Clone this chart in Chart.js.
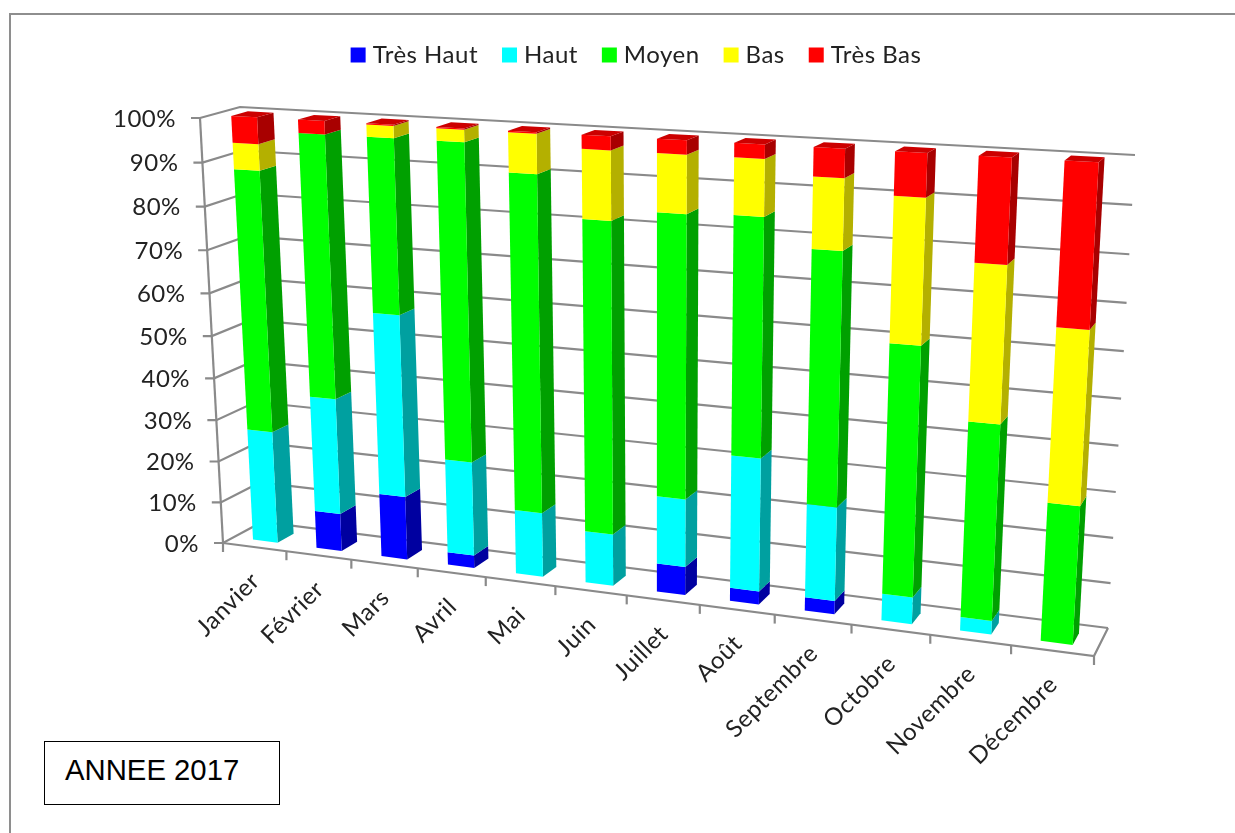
<!DOCTYPE html>
<html lang="fr">
<head>
  <meta charset="UTF-8">
  <title>Année 2017</title>
  <script src="https://cdn.jsdelivr.net/npm/chart.js"></script>
  <style>
    html, body { margin: 0; background: #fff; overflow: hidden; }
    #cadre { position: absolute; left: 9px; top: 13px; width: 1240px; height: 840px; border-left: 2px solid #8e8e8e; border-top: 2px solid #8e8e8e; }
    #graphique { position: absolute; left: 0; top: 0; }
    #annee { position: absolute; left: 44px; top: 741px; width: 233.5px; height: 62px; border: 1.5px solid #000; background: #fff;
             font: 29.3px "Liberation Sans", Arial, sans-serif; line-height: 55px; text-indent: 20px; color: #000; }
  </style>
</head>
<body>

<div id="cadre"></div>
<canvas id="graphique" width="1235" height="833"></canvas>
<div id="annee">ANNEE 2017</div>

<script>
  const mois = ['Janvier', 'Février', 'Mars', 'Avril', 'Mai', 'Juin', 'Juillet', 'Août', 'Septembre', 'Octobre', 'Novembre', 'Décembre'];
  const tresHaut = [0, 9, 15, 3, 0, 0, 6.5, 3, 3, 0, 0, 0];
  const haut = [27, 27.5, 42.5, 22, 15, 12, 15.5, 30, 21, 6, 3, 0];
  const moyen = [61, 60.5, 39.5, 72, 76, 70, 62.5, 52, 55, 54.5, 42.5, 30];
  const bas = [6, 0, 2.7, 2.7, 8.7, 15, 12.5, 12, 15, 30.5, 33, 36.6];
  const tresBas = [6, 3, 0.3, 0.3, 0.3, 3, 3, 3, 6, 9, 21.5, 33.4];

  // couleurs : face avant, face droite, dessus
  const couleurs = {
    'Très Haut': ['#0000ff', '#0000a0', '#0000c8'],
    'Haut': ['#00ffff', '#00a0a0', '#00c8c8'],
    'Moyen': ['#00ff00', '#00a000', '#00c800'],
    'Bas': ['#ffff00', '#b4b000', '#d0d000'],
    'Très Bas': ['#ff0000', '#a80000', '#cc0000']
  };

  // plan avant et mur du fond de la boite 3D : haut-gauche, haut-droit, bas-droit, bas-gauche
  const planAvant = [[200, 118], [1122, 167], [1094, 656], [223, 543]];
  const planFond = [[240, 107], [1135, 155], [1108, 628], [262, 522]];
  const profBarre = [0.28, 0.7];
  const gris = '#8a8a8a';
  const police = 'Lato, "Open Sans", sans-serif';

  // homographie carre unite -> quadrilatere
  function homographie(q) {
    const [[x0, y0], [x1, y1], [x2, y2], [x3, y3]] = q;
    const dx1 = x1 - x2, dx2 = x3 - x2, sx = x0 - x1 + x2 - x3;
    const dy1 = y1 - y2, dy2 = y3 - y2, sy = y0 - y1 + y2 - y3;
    const det = dx1 * dy2 - dx2 * dy1;
    const g = (sx * dy2 - dx2 * sy) / det;
    const h = (dx1 * sy - sx * dy1) / det;
    const a = x1 - x0 + g * x1, b = x3 - x0 + h * x3;
    const d = y1 - y0 + g * y1, e = y3 - y0 + h * y3;
    return (u, v) => {
      const w = g * u + h * v + 1;
      return [(a * u + b * v + x0) / w, (d * u + e * v + y0) / w];
    };
  }
  const hAvant = homographie(planAvant);
  const hFond = homographie(planFond);

  function projeter(chart, px, py, z) {
    const zone = chart.chartArea;
    const u = (px - zone.left) / zone.width;
    const v = (py - zone.top) / zone.height;
    const a = hAvant(u, v), b = hFond(u, v);
    return [a[0] + (b[0] - a[0]) * z, a[1] + (b[1] - a[1]) * z];
  }

  function trace(ctx, points) {
    ctx.beginPath();
    points.forEach((p, i) => i ? ctx.lineTo(p[0], p[1]) : ctx.moveTo(p[0], p[1]));
  }

  function face(ctx, points, couleur) {
    trace(ctx, points);
    ctx.closePath();
    ctx.fillStyle = couleur;
    ctx.fill();
  }

  function dessinerAxes(chart) {
    const ctx = chart.ctx, zone = chart.chartArea, y = chart.scales.y, x = chart.scales.x;
    ctx.save();
    ctx.strokeStyle = gris;
    ctx.lineWidth = 2.2;
    ctx.fillStyle = '#222';
    ctx.font = '24px ' + police;

    // graduations en %, lignes sur la paroi gauche et le fond
    ctx.textAlign = 'right';
    ctx.textBaseline = 'middle';
    y.ticks.forEach(t => {
      const py = y.getPixelForValue(t.value);
      const a = projeter(chart, zone.left, py, 0);
      trace(ctx, [[a[0] - 9, a[1]], a, projeter(chart, zone.left, py, 1), projeter(chart, zone.right, py, 1)]);
      ctx.stroke();
      ctx.fillText(t.label, a[0] - 24, a[1] + 1);
    });

    // axe vertical et bords du sol
    trace(ctx, [projeter(chart, zone.left, zone.top, 0), projeter(chart, zone.left, zone.bottom, 0)]);
    ctx.stroke();
    trace(ctx, [projeter(chart, zone.left, zone.bottom, 0), projeter(chart, zone.right, zone.bottom, 0), projeter(chart, zone.right, zone.bottom, 1)]);
    ctx.stroke();

    // tirets entre les categories
    const pas = zone.width / mois.length;
    for (let i = 0; i <= mois.length; i++) {
      const p = projeter(chart, zone.left + i * pas, zone.bottom, 0);
      trace(ctx, [p, [p[0], p[1] + 9]]);
      ctx.stroke();
    }

    // noms des mois a 45 degres
    ctx.textBaseline = 'middle';
    mois.forEach((m, i) => {
      const p = projeter(chart, x.getPixelForValue(i), zone.bottom, 0);
      ctx.save();
      ctx.translate(p[0] + 1, p[1] + 30);
      ctx.rotate(-Math.PI / 4);
      ctx.fillText(m, 0, 0);
      ctx.restore();
    });
    ctx.restore();
  }

  function dessinerBarres(chart) {
    const ctx = chart.ctx;
    const [z0, z1] = profBarre;
    mois.forEach((m, i) => {
      let sommet = null;
      chart.data.datasets.forEach((ds, d) => {
        if (!ds.data[i]) return;
        const el = chart.getDatasetMeta(d).data[i];
        const [c1, c2] = couleurs[ds.label];
        const g = el.x - el.width / 2, dr = el.x + el.width / 2;
        // flanc droit puis face avant
        face(ctx, [projeter(chart, dr, el.y, z0), projeter(chart, dr, el.y, z1), projeter(chart, dr, el.base, z1), projeter(chart, dr, el.base, z0)], c2);
        face(ctx, [projeter(chart, g, el.y, z0), projeter(chart, dr, el.y, z0), projeter(chart, dr, el.base, z0), projeter(chart, g, el.base, z0)], c1);
        sommet = { g, dr, y: el.y, couleur: couleurs[ds.label][2] };
      });
      if (sommet) {
        const s = sommet;
        face(ctx, [projeter(chart, s.g, s.y, z0), projeter(chart, s.dr, s.y, z0), projeter(chart, s.dr, s.y, z1), projeter(chart, s.g, s.y, z1)], s.couleur);
      }
    });
  }

  // remplace le rendu des barres plates par la vue en perspective
  const perspective = {
    id: 'perspective',
    beforeUpdate(chart) {
      // texte un peu plus large que Lato par defaut
      chart.ctx.letterSpacing = '0.5px';
    },
    beforeDatasetsDraw(chart) {
      dessinerAxes(chart);
      dessinerBarres(chart);
      return false;
    }
  };

  function serie(label, valeurs) {
    return { label, data: valeurs, backgroundColor: couleurs[label][0], borderWidth: 0 };
  }

  new Chart(document.getElementById('graphique').getContext('2d'), {
    type: 'bar',
    data: {
      labels: mois,
      datasets: [
        serie('Très Haut', tresHaut),
        serie('Haut', haut),
        serie('Moyen', moyen),
        serie('Bas', bas),
        serie('Très Bas', tresBas)
      ]
    },
    options: {
      responsive: false,
      animation: false,
      layout: { padding: { top: 14, left: 42, right: 0, bottom: 40 } },
      datasets: { bar: { categoryPercentage: 1, barPercentage: 0.39 } },
      plugins: {
        tooltip: { enabled: false },
        legend: {
          position: 'top',
          labels: {
            usePointStyle: true, pointStyle: 'rect', boxWidth: 5, boxHeight: 15, padding: 29,
            color: '#222', font: { family: police, size: 24 }
          }
        }
      },
      scales: {
        x: { stacked: true, display: false },
        y: { stacked: true, display: false, min: 0, max: 100, ticks: { stepSize: 10, callback: v => v + '%' } }
      }
    },
    plugins: [perspective]
  });
</script>

</body>
</html>
